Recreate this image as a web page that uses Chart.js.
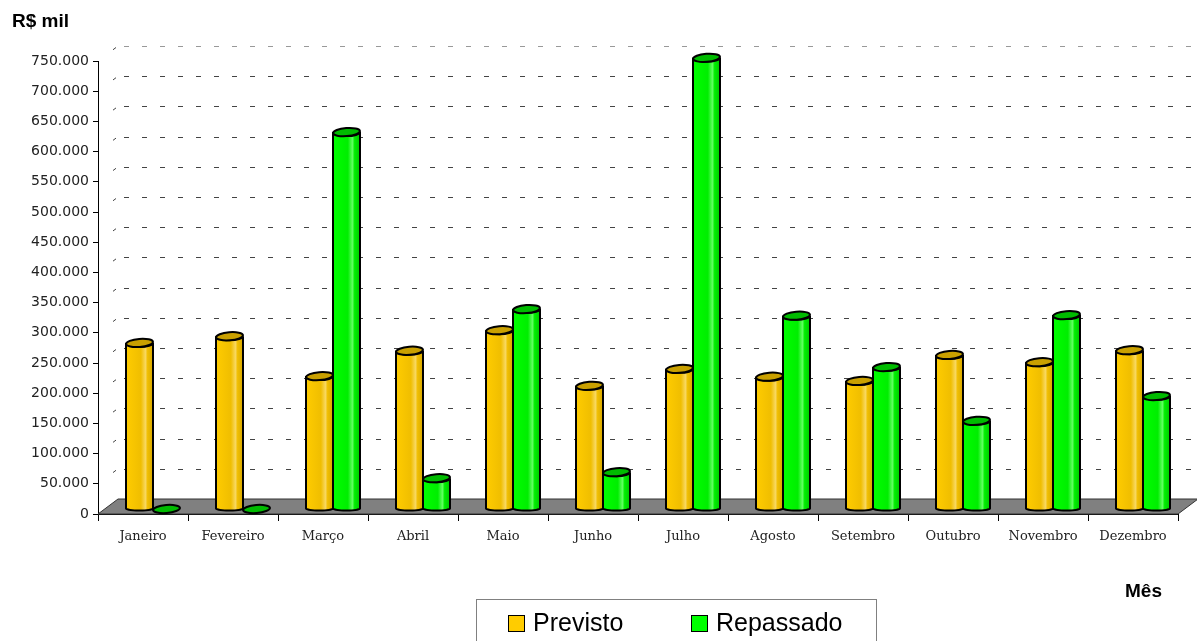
<!DOCTYPE html>
<html>
<head>
<meta charset="utf-8">
<script src="https://cdn.jsdelivr.net/npm/chart.js@4.4.1/dist/chart.umd.min.js"></script>
<style>
  body { margin: 0; background: #fff; }
  #wrap { position: relative; width: 1197px; height: 641px; overflow: hidden; }
  #grafico { position: absolute; left: 0; top: 0; }
  .titulo { position: absolute; font-family: "Liberation Sans", Arial, sans-serif; font-weight: bold; font-size: 19px; color: #000; }
  #legenda { position: absolute; left: 476px; top: 599px; width: 401px; height: 60px; border: 1px solid #808080; box-sizing: border-box; font-family: "Liberation Sans", Arial, sans-serif; font-size: 25px; }
  .item { position: absolute; top: 8px; line-height: 28px; }
  .cx { display: inline-block; width: 15px; height: 15px; border: 1px solid #000; vertical-align: -1px; margin-right: 8px; }
</style>
</head>
<body>
<div id="wrap">
  <canvas id="grafico" width="1197" height="641"></canvas>
  <div class="titulo" style="left:12px; top:10px;">R$ mil</div>
  <div class="titulo" style="left:1125px; top:580px;">Mês</div>
  <div id="legenda">
    <span class="item" style="left:31px;"><span class="cx" style="background:#FFCC00"></span>Previsto</span>
    <span class="item" style="left:214px;"><span class="cx" style="background:#00FF00"></span>Repassado</span>
  </div>
</div>
<script>
const meses = ['Janeiro', 'Fevereiro', 'Março', 'Abril', 'Maio', 'Junho', 'Julho', 'Agosto', 'Setembro', 'Outubro', 'Novembro', 'Dezembro'];
const previsto = [275000, 286000, 220000, 262000, 296000, 204000, 232000, 219000, 212000, 255000, 243000, 263000];
const repassado = [0, 0, 624000, 51000, 331000, 61000, 747000, 320000, 235000, 146000, 321000, 187000];
const yMax = 750000;
const yPasso = 50000;

// deslocamento da profundidade (efeito 3D)
const fundoX = 20, fundoY = -15;

function formatar(v) {
    return String(v).replace(/\B(?=(\d{3})+(?!\d))/g, '.');
}

function cilindro(ctx, cx, topo, base, w, cores) {
    const rx = w / 2, ry = 4, ryBase = 2;
    const grad = ctx.createLinearGradient(cx - rx, 0, cx + rx, 0);
    grad.addColorStop(0, cores[0]);
    grad.addColorStop(0.55, cores[1]);
    grad.addColorStop(0.72, cores[2]);
    grad.addColorStop(0.8, cores[1]);
    grad.addColorStop(1, cores[3]);
    ctx.save();
    ctx.lineWidth = 2;
    ctx.strokeStyle = '#000';
    if (base - topo > 0.5) {
        ctx.beginPath();
        ctx.moveTo(cx - rx, topo);
        ctx.lineTo(cx - rx, base);
        ctx.ellipse(cx, base, rx, ryBase, 0, Math.PI, 0, true);
        ctx.lineTo(cx + rx, topo);
        ctx.ellipse(cx, topo, rx, ry, 0, 0, Math.PI, false);
        ctx.closePath();
        ctx.fillStyle = grad;
        ctx.fill();
        ctx.stroke();
    }
    ctx.beginPath();
    ctx.ellipse(cx, topo, rx, ry, -0.08, 0, Math.PI * 2);
    ctx.fillStyle = cores[4];
    ctx.fill();
    ctx.stroke();
    ctx.restore();
}

const coresBarras = [
    ['#FFCC00', '#F0BE00', '#F8D860', '#D8A800', '#C9A000'],
    ['#00FF00', '#00EE00', '#60FF60', '#00C800', '#00BB00']
];

const efeito3D = {
    id: 'efeito3D',
    beforeDatasetsDraw(chart) {
        const ctx = chart.ctx;
        const area = chart.chartArea;
        const y = chart.scales.y;
        ctx.save();
        // linhas de grade da parede do fundo
        ctx.lineWidth = 1;
        for (let v = yPasso; v <= yMax; v += yPasso) {
            const py = Math.round(y.getPixelForValue(v) + fundoY) + 0.5;
            ctx.strokeStyle = v === yMax ? '#999' : '#444';
            ctx.setLineDash([5, 13]);
            ctx.beginPath();
            ctx.moveTo(area.left + fundoX + 6, py);
            ctx.lineTo(area.right + fundoX, py);
            ctx.stroke();
            // marquinha na parede lateral
            ctx.setLineDash([]);
            ctx.strokeStyle = '#444';
            const fy = y.getPixelForValue(v);
            ctx.beginPath();
            ctx.moveTo(area.left + fundoX * 0.75, fy + fundoY * 0.75);
            ctx.lineTo(area.left + fundoX * 0.9, fy + fundoY * 0.9);
            ctx.stroke();
        }
        // piso
        const y0 = y.getPixelForValue(0);
        ctx.setLineDash([]);
        ctx.beginPath();
        ctx.moveTo(area.left, y0);
        ctx.lineTo(area.right, y0);
        ctx.lineTo(area.right + fundoX, y0 + fundoY);
        ctx.lineTo(area.left + fundoX, y0 + fundoY);
        ctx.closePath();
        ctx.fillStyle = '#808080';
        ctx.fill();
        ctx.strokeStyle = '#333';
        ctx.stroke();
        ctx.restore();
    },
    afterDatasetsDraw(chart) {
        const ctx = chart.ctx;
        chart.data.datasets.forEach((ds, i) => {
            const meta = chart.getDatasetMeta(i);
            meta.data.forEach(el => {
                const p = el.getProps(['x', 'y', 'base', 'width'], true);
                cilindro(ctx, p.x + fundoX / 2, p.y + fundoY / 3, p.base + fundoY / 3, p.width, coresBarras[i]);
            });
        });
    }
};

new Chart(document.getElementById('grafico'), {
    type: 'bar',
    data: {
        labels: meses,
        datasets: [
            { label: 'Previsto', data: previsto, backgroundColor: 'rgba(0,0,0,0)', borderWidth: 0 },
            { label: 'Repassado', data: repassado, backgroundColor: 'rgba(0,0,0,0)', borderWidth: 0 }
        ]
    },
    options: {
        responsive: false,
        animation: false,
        layout: { padding: { left: 0, top: 61, right: 19, bottom: 97 } },
        datasets: { bar: { categoryPercentage: 0.6, barPercentage: 1 } },
        plugins: { legend: { display: false }, tooltip: { enabled: false } },
        scales: {
            x: {
                grid: { drawOnChartArea: false, color: '#000', tickLength: 7, tickColor: '#000' },
                border: { color: '#000', width: 1 },
                ticks: { color: '#222', padding: 8, maxRotation: 0, font: { family: 'DejaVu Serif', size: 13 } },
                afterFit(scale) { scale.height = 30; }
            },
            y: {
                min: 0,
                max: yMax,
                grid: { drawOnChartArea: false, tickLength: 5, tickColor: '#000' },
                border: { color: '#000', width: 1 },
                ticks: {
                    stepSize: yPasso,
                    color: '#222',
                    padding: 4,
                    font: { family: 'DejaVu Sans', size: 14 },
                    callback: v => formatar(v)
                },
                afterFit(scale) { scale.width = 98; }
            }
        }
    },
    plugins: [efeito3D]
});
</script>
</body>
</html>
